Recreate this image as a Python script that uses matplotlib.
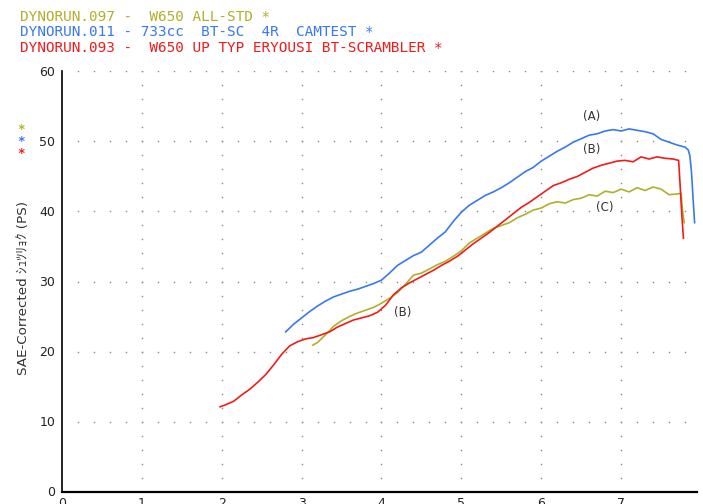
import numpy as np
import matplotlib
matplotlib.use('AGG')
import matplotlib.pyplot as plt

# (A) DYNORUN.011 blue
a_rpm = [2.80, 2.90, 3.00, 3.10, 3.20, 3.30, 3.40, 3.50, 3.60, 3.70, 3.80, 3.90,
         4.00, 4.10, 4.20, 4.30, 4.40, 4.50, 4.60, 4.70, 4.80, 4.90, 5.00, 5.10,
         5.20, 5.30, 5.40, 5.50, 5.60, 5.70, 5.80, 5.90, 6.00, 6.10, 6.20, 6.30,
         6.40, 6.50, 6.60, 6.70, 6.80, 6.90, 7.00, 7.10, 7.20, 7.30, 7.40, 7.50,
         7.60, 7.70, 7.80, 7.84, 7.86, 7.88, 7.90, 7.92]
a_ps = [22.8, 23.9, 24.8, 25.7, 26.5, 27.2, 27.8, 28.2, 28.6, 28.9, 29.3, 29.7,
        30.2, 31.2, 32.3, 33.0, 33.7, 34.2, 35.2, 36.2, 37.1, 38.6, 39.9, 40.9,
        41.6, 42.3, 42.8, 43.4, 44.1, 44.9, 45.7, 46.3, 47.2, 47.9, 48.6, 49.2,
        49.9, 50.4, 50.9, 51.1, 51.5, 51.7, 51.5, 51.8, 51.6, 51.4, 51.1, 50.3,
        49.9, 49.5, 49.2, 48.8, 48.0, 45.8, 42.0, 38.4]

# (B) DYNORUN.093 red
b_rpm = [1.98, 2.05, 2.15, 2.25, 2.35, 2.45, 2.55, 2.65, 2.75, 2.85, 2.95, 3.05,
         3.15, 3.25, 3.35, 3.45, 3.55, 3.65, 3.75, 3.85, 3.95, 4.05, 4.15, 4.25,
         4.35, 4.45, 4.55, 4.65, 4.75, 4.85, 4.95, 5.05, 5.15, 5.25, 5.35, 5.45,
         5.55, 5.65, 5.75, 5.85, 5.95, 6.05, 6.15, 6.25, 6.35, 6.45, 6.55, 6.65,
         6.75, 6.85, 6.95, 7.05, 7.15, 7.25, 7.35, 7.45, 7.55, 7.65, 7.72, 7.74,
         7.76, 7.78]
b_ps = [12.1, 12.4, 12.9, 13.8, 14.6, 15.6, 16.7, 18.1, 19.6, 20.8, 21.4, 21.8,
        22.0, 22.4, 22.8, 23.5, 24.0, 24.5, 24.8, 25.1, 25.6, 26.6, 28.1, 29.1,
        29.8, 30.4, 31.0, 31.6, 32.3, 32.9, 33.6, 34.5, 35.4, 36.2, 37.0, 37.9,
        38.8, 39.7, 40.6, 41.3, 42.1, 42.9, 43.7, 44.1, 44.6, 45.0, 45.6, 46.2,
        46.6, 46.9, 47.2, 47.3, 47.1, 47.8, 47.5, 47.8, 47.6, 47.5, 47.3, 43.5,
        39.5, 36.2]

# (C) DYNORUN.097 olive
c_rpm = [3.14, 3.20, 3.30, 3.40, 3.50, 3.60, 3.70, 3.80, 3.90, 4.00, 4.10, 4.20,
         4.30, 4.40, 4.50, 4.60, 4.70, 4.80, 4.90, 5.00, 5.10, 5.20, 5.30, 5.40,
         5.50, 5.60, 5.70, 5.80, 5.90, 6.00, 6.10, 6.20, 6.30, 6.40, 6.50, 6.60,
         6.70, 6.80, 6.90, 7.00, 7.10, 7.20, 7.30, 7.40, 7.50, 7.60, 7.70, 7.75,
         7.77, 7.79]
c_ps = [20.9, 21.3, 22.4, 23.6, 24.4, 25.0, 25.5, 25.9, 26.3, 26.9, 27.6, 28.4,
        29.6, 30.9, 31.2, 31.8, 32.4, 32.9, 33.6, 34.4, 35.5, 36.2, 36.9, 37.6,
        38.0, 38.4, 39.1, 39.6, 40.2, 40.5, 41.1, 41.4, 41.2, 41.7, 41.9, 42.4,
        42.2, 42.9, 42.7, 43.2, 42.8, 43.4, 43.0, 43.5, 43.2, 42.4, 42.5, 42.6,
        40.0, 38.4]

titles = ['DYNORUN.097 -  W650 ALL-STD *',
          'DYNORUN.011 - 733cc  BT-SC  4R  CAMTEST *',
          'DYNORUN.093 -  W650 UP TYP ERYOUSI BT-SCRAMBLER *']

OLIVE = '#b0b02a'
BLUE = '#3a78f0'
RED = '#f01c1c'

fig = plt.figure(figsize=(7.03, 5.04), dpi=100)
ax = fig.add_axes([62 / 703, 12.5 / 504, (697 - 62) / 703, 420 / 504])

# dotted grid
for xv in range(1, 8):
    yy = np.arange(2, 61, 2)
    ax.plot(np.full(len(yy), xv), yy, ls='none', marker='s', ms=1.0,
            mew=0, color='#888888', zorder=1)
for yv in range(10, 61, 10):
    xx = np.arange(0.2, 7.95, 0.2)
    ax.plot(xx, np.full(len(xx), yv), ls='none', marker='s', ms=1.0,
            mew=0, color='#888888', zorder=1)

ax.plot(c_rpm, c_ps, color=OLIVE, lw=1.2, zorder=3)
ax.plot(b_rpm, b_ps, color=RED, lw=1.2, zorder=4)
ax.plot(a_rpm, a_ps, color=BLUE, lw=1.2, zorder=5)

box = dict(facecolor='white', edgecolor='none', pad=4)
for lab, x, y in [('(A)', 6.63, 53.6), ('(B)', 6.63, 48.8),
                  ('(C)', 6.80, 40.5), ('(B)', 4.27, 25.6)]:
    ax.text(x, y, lab, fontsize=8.5, color='#333333', ha='center',
            va='center', bbox=box, zorder=2)

ax.set_xlim(0, 7.95)
ax.set_ylim(0, 60)
ax.set_xticks(range(0, 8))
ax.set_yticks(range(0, 61, 10))
ax.tick_params(length=0, labelsize=9, colors='#222222')
ax.tick_params(axis='x', pad=4)
ax.tick_params(axis='y', pad=5)
for s in ['top', 'right']:
    ax.spines[s].set_visible(False)
ax.spines['left'].set_linewidth(1.2)
ax.spines['bottom'].set_linewidth(1.6)

for i, (t, c) in enumerate(zip(titles, [OLIVE, BLUE, RED])):
    fig.text(20 / 703, 1 - (17 + 15.5 * i) / 504, t, color=c, fontsize=10.4,
             family='DejaVu Sans Mono', va='center', ha='left')
for i, c in enumerate([OLIVE, BLUE, RED]):
    fig.text(21 / 703, 1 - (130 + 11.5 * i) / 504, '*', color=c, fontsize=9,
             family='DejaVu Sans Mono', va='center', ha='center', weight='bold')

fig.text(24 / 703, 1 - 288 / 504, 'SAE-Corrected ｼｭﾂﾘｮｸ (PS)', rotation=90,
         fontsize=9.7, color='#333333', va='center', ha='center',
         family=['DejaVu Sans', 'Noto Sans CJK JP'])

plt.savefig('out.png', dpi=100)
plt.close('all')
